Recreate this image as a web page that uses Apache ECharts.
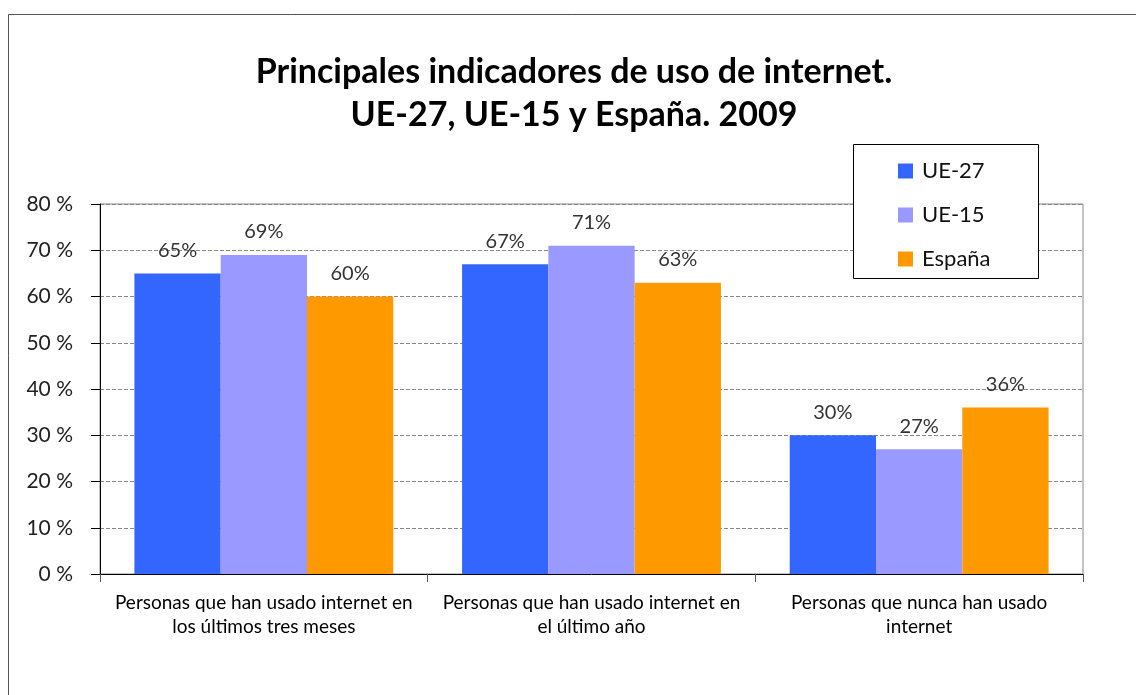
<!DOCTYPE html>
<html>
<head>
<meta charset="utf-8">
<script src="https://cdn.jsdelivr.net/npm/echarts@6/dist/echarts.min.js"></script>
<style>
html,body{margin:0;padding:0;background:#fff;}
#c{width:1136px;height:695px;}
</style>
</head>
<body>
<div id="c"></div>
<script>
const categories = [
  "Personas que han usado internet en\nlos últimos tres meses",
  "Personas que han usado internet en\nel último año",
  "Personas que nunca han usado\ninternet"
];
const seriesNames = ["UE-27", "UE-15", "España"];
const ue27 = [65, 67, 30];
const ue15 = [69, 71, 27];
const espana = [60, 63, 36];
const colors = ["#3366FF", "#9999FF", "#FF9900"];
const titleLines = "Principales indicadores de uso de internet.\nUE-27, UE-15 y España. 2009";

const chart = echarts.init(document.getElementById('c'), null, {renderer: 'canvas'});
const dataSets = [ue27, ue15, espana];
const FONT = 'Lato, "Open Sans", sans-serif';

const labelStyle = {
  show: true, position: 'top', distance: 13,
  formatter: p => p.value + '%',
  fontFamily: FONT, fontSize: 20, color: '#333'
};

chart.setOption({
  animation: false,
  backgroundColor: '#fff',
  title: {
    text: titleLines,
    left: 569, top: 46, textAlign: 'center',
    textStyle: {fontFamily: FONT, fontWeight: 'bold', fontSize: 34, color: '#000', lineHeight: 43}
  },
  graphic: [
    {type: 'rect', shape: {x: 8.5, y: 14.5, width: 1140, height: 700}, style: {fill: 'none', stroke: '#555', lineWidth: 1}, z: 0},
    {type: 'rect', shape: {x: 853.5, y: 144.5, width: 185, height: 134}, style: {fill: '#fff', stroke: '#000', lineWidth: 1}, z: 50}
  ],
  legend: {
    orient: 'vertical', left: 893, top: 155, itemWidth: 15, itemHeight: 15, itemGap: 22,
    icon: 'rect', z: 60,
    textStyle: {fontFamily: FONT, fontSize: 22, color: '#111', padding: [0, 0, 0, 4]},
    data: seriesNames
  },
  grid: {left: 100, right: 53, top: 204, bottom: 121, show: true, borderColor: '#888', borderWidth: 1, backgroundColor: 'transparent'},
  xAxis: {
    type: 'category', data: categories,
    axisLine: {lineStyle: {color: '#000', width: 1}},
    axisTick: {show: true, length: 8, alignWithLabel: false, lineStyle: {color: '#555'}},
    axisLabel: {fontFamily: FONT, fontSize: 19, color: '#000', lineHeight: 24, margin: 17, interval: 0}
  },
  yAxis: {
    type: 'value', min: 0, max: 80, interval: 10,
    axisLine: {show: true, lineStyle: {color: '#000', width: 1}},
    axisTick: {show: true, length: 9, lineStyle: {color: '#000'}},
    axisLabel: {formatter: '{value} %', fontFamily: FONT, fontSize: 21, color: '#222', margin: 27},
    splitLine: {lineStyle: {color: '#888', type: [4, 2], width: 1}}
  },
  series: seriesNames.map((n, i) => ({
    name: n, type: 'bar', data: dataSets[i],
    barGap: '0%', barCategoryGap: '21%',
    itemStyle: {color: colors[i]},
    label: labelStyle
  }))
});
</script>
</body>
</html>
